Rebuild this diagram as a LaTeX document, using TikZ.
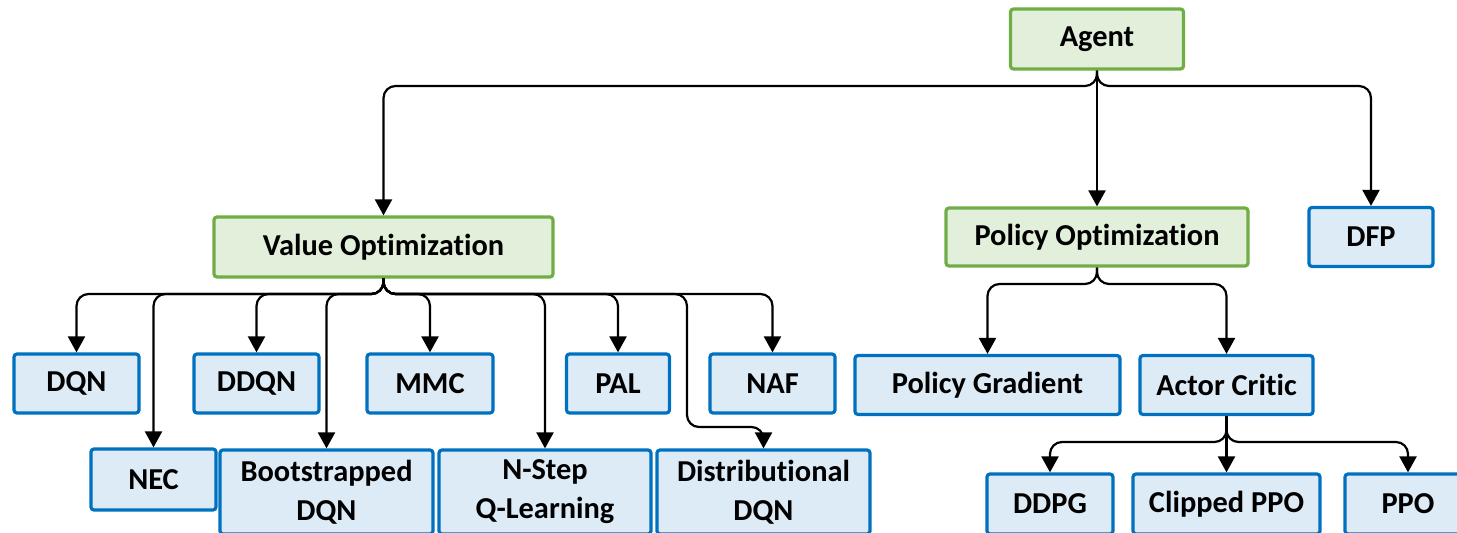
\documentclass[tikz,border=0pt]{standalone}
\usepackage{fontspec}
\setmainfont[Ligatures=NoCommon]{Carlito}
\usetikzlibrary{arrows.meta}
\definecolor{gline}{RGB}{112,173,71}
\definecolor{gfill}{RGB}{226,239,218}
\definecolor{bline}{RGB}{0,112,192}
\definecolor{bfill}{RGB}{221,235,247}
\begin{document}
\begin{tikzpicture}[x=0.5pt,y=-0.5pt,
  boxbase/.style={rectangle, rounded corners=1.5pt, line width=1.6pt, inner sep=0pt,
    align=center, font=\fontsize{15.2}{19.5}\selectfont\bfseries},
  gbox/.style={boxbase, draw=gline, fill=gfill},
  bbox/.style={boxbase, draw=bline, fill=bfill},
  conn/.style={draw, line width=1.1pt, rounded corners=6pt, -{Triangle[width=8.5pt,length=8pt]}}]
\useasboundingbox (0,0) rectangle (1457,533);
% nodes
\node[gbox, minimum width=86.5pt, minimum height=30pt] (agent) at (1097,39) {Agent};
\node[gbox, minimum width=169.5pt, minimum height=30pt] (vo) at (383.5,247) {Value Optimization};
\node[gbox, minimum width=151pt, minimum height=29pt] (po) at (1097,237) {Policy Optimization};
\node[bbox, minimum width=62pt, minimum height=29.5pt] (dfp) at (1371,237) {DFP};
\node[bbox, minimum width=62.5pt, minimum height=29.5pt] (dqn) at (76.5,383.5) {DQN};
\node[bbox, minimum width=62.5pt, minimum height=29.5pt] (ddqn) at (256.5,383.5) {DDQN};
\node[bbox, minimum width=63pt, minimum height=29.5pt] (mmc) at (430,383.5) {MMC};
\node[bbox, minimum width=51.5pt, minimum height=29.5pt] (pal) at (618,383.5) {PAL};
\node[bbox, minimum width=62.5pt, minimum height=29.5pt] (naf) at (772.5,383.5) {NAF};
\node[bbox, minimum width=62.5pt, minimum height=30.5pt] (nec) at (153.5,479.5) {NEC};
\node[bbox, minimum width=106.5pt, minimum height=42pt] (boot) at (326.5,492) {Bootstrapped\\DQN};
\node[bbox, minimum width=106pt, minimum height=42pt] (nstep) at (545,492) {N-Step\\Q-Learning};
\node[bbox, minimum width=106.5pt, minimum height=42pt] (dist) at (763.5,492) {Distributional\\DQN};
\node[bbox, minimum width=132.5pt, minimum height=29.5pt] (pg) at (987.5,385) {Policy Gradient};
\node[bbox, minimum width=86.5pt, minimum height=29.5pt] (ac) at (1226.5,385) {Actor Critic};
\node[bbox, minimum width=63pt, minimum height=30pt] (ddpg) at (1050,504) {DDPG};
\node[bbox, minimum width=93.5pt, minimum height=30pt] (cppo) at (1226.5,504) {Clipped PPO};
\node[bbox, minimum width=63pt, minimum height=30pt] (ppo) at (1408,504) {PPO};
% bus coordinates
\coordinate (b1) at (0,86);
\coordinate (b2) at (0,294);
\coordinate (b3) at (0,284);
\coordinate (b4) at (0,442);
\coordinate (dj) at (687,427);
% Agent
\draw[conn] (agent.south) -- (agent.south |- b1) -| (vo.north);
\draw[conn] (agent.south) -- (po.north);
\draw[conn] (agent.south) -- (agent.south |- b1) -| (dfp.north);
% Value Optimization
\draw[conn] (vo.south) -- (vo.south |- b2) -| (dqn.north);
\draw[conn] (vo.south) -- (vo.south |- b2) -| (nec.north);
\draw[conn] (vo.south) -- (vo.south |- b2) -| (ddqn.north);
\draw[conn] (vo.south) -- (vo.south |- b2) -| (boot.north);
\draw[conn] (vo.south) -- (vo.south |- b2) -| (mmc.north);
\draw[conn] (vo.south) -- (vo.south |- b2) -| (nstep.north);
\draw[conn] (vo.south) -- (vo.south |- b2) -| (pal.north);
\draw[conn] (vo.south) -- (vo.south |- b2) -| (dj) -| (dist.north);
\draw[conn] (vo.south) -- (vo.south |- b2) -| (naf.north);
% Policy Optimization
\draw[conn] (po.south) -- (po.south |- b3) -| (pg.north);
\draw[conn] (po.south) -- (po.south |- b3) -| (ac.north);
% Actor Critic
\draw[conn] (ac.south) -- (ac.south |- b4) -| (ddpg.north);
\draw[conn] (ac.south) -- (cppo.north);
\draw[conn] (ac.south) -- (ac.south |- b4) -| (ppo.north);
\end{tikzpicture}
\end{document}
